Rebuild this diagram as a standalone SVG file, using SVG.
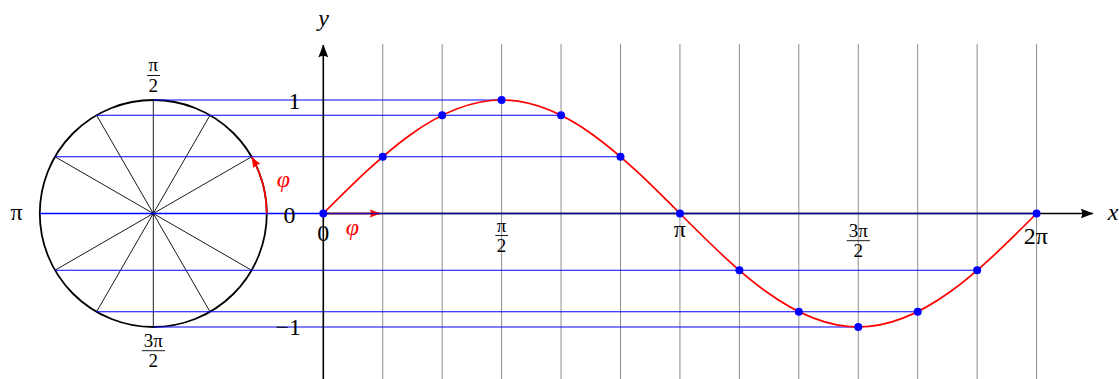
<svg xmlns="http://www.w3.org/2000/svg" width="1119" height="379" viewBox="0 0 1119 379">
<style>
.grid{stroke:#8c8c8c;stroke-width:1;fill:none}
.rad{stroke:#000;stroke-width:0.9;fill:none}
.proj{stroke:#0000ff;stroke-width:1.1;fill:none}
.axis{stroke:#000;stroke-width:1.6;fill:none}
.sine{stroke:#ff0000;stroke-width:1.7;fill:none}
.red{stroke:#ff0000;stroke-width:1.7;fill:none}
.dot{fill:#0000ff}
text{font-family:"Liberation Serif","Times New Roman",serif;fill:#000;text-anchor:middle}
.big{font-size:24px}
.frac{font-size:19px}
.it{font-style:italic}
.phi{fill:#ff0000;font-style:italic;font-size:24px}
.bar{stroke:#000;stroke-width:0.9}
</style>
<defs>
<marker id="ah" markerUnits="userSpaceOnUse" markerWidth="13" markerHeight="11" viewBox="0 0 13 11" refX="12.5" refY="5.5" orient="auto">
<path d="M13,5.5 L0,0.5 Q3.5,5.5 0,10.5 Z" fill="#000"/>
</marker>
<marker id="ahr" markerUnits="userSpaceOnUse" markerWidth="11" markerHeight="9" viewBox="0 0 11 9" refX="10.5" refY="4.5" orient="auto">
<path d="M11,4.5 L0,0.3 Q3,4.5 0,8.7 Z" fill="#ff0000"/>
</marker>
</defs>

<g id="grid">
<line class="grid" x1="382.74" y1="44" x2="382.74" y2="379"/>
<line class="grid" x1="442.18" y1="44" x2="442.18" y2="379"/>
<line class="grid" x1="501.62" y1="44" x2="501.62" y2="379"/>
<line class="grid" x1="561.06" y1="44" x2="561.06" y2="379"/>
<line class="grid" x1="620.5" y1="44" x2="620.5" y2="379"/>
<line class="grid" x1="679.94" y1="44" x2="679.94" y2="379"/>
<line class="grid" x1="739.38" y1="44" x2="739.38" y2="379"/>
<line class="grid" x1="798.82" y1="44" x2="798.82" y2="379"/>
<line class="grid" x1="858.26" y1="44" x2="858.26" y2="379"/>
<line class="grid" x1="917.7" y1="44" x2="917.7" y2="379"/>
<line class="grid" x1="977.14" y1="44" x2="977.14" y2="379"/>
<line class="grid" x1="1036.58" y1="44" x2="1036.58" y2="379"/>
</g>

<g id="unit-circle">
<line class="rad" x1="153.3" y1="100" x2="153.3" y2="327"/>
<line class="rad" x1="96.55" y1="115.21" x2="210.05" y2="311.79"/>
<line class="rad" x1="210.05" y1="115.21" x2="96.55" y2="311.79"/>
<line class="rad" x1="55.01" y1="156.75" x2="251.59" y2="270.25"/>
<line class="rad" x1="251.59" y1="156.75" x2="55.01" y2="270.25"/>
<circle cx="153.3" cy="213.5" r="113.5" fill="none" stroke="#000" stroke-width="1.8"/>
</g>

<g id="x-axis">
<line class="axis" x1="323.3" y1="213.5" x2="1093" y2="213.5" marker-end="url(#ah)"/>
</g>

<g id="connectors">
<line class="red" x1="323.3" y1="213.5" x2="380" y2="213.5" marker-end="url(#ahr)"/>
<line class="proj" x1="153.3" y1="100" x2="501.62" y2="100"/>
<line class="proj" x1="96.55" y1="115.21" x2="561.06" y2="115.21"/>
<line class="proj" x1="55.01" y1="156.75" x2="620.5" y2="156.75"/>
<line class="proj" x1="39.8" y1="213.5" x2="323.3" y2="213.5" style="stroke-width:1.6"/>
<line x1="323.3" y1="213.5" x2="1036.58" y2="213.5" style="stroke:#0a0aa8;stroke-width:1.7;stroke-opacity:0.9"/>
<line class="proj" x1="55.01" y1="270.25" x2="977.14" y2="270.25"/>
<line class="proj" x1="96.55" y1="311.79" x2="917.7" y2="311.79"/>
<line class="proj" x1="153.3" y1="327" x2="858.26" y2="327"/>
<path class="red" d="M266.8,213.5 A113.5,113.5 0 0 0 251.8,157.2" marker-end="url(#ahr)"/>
</g>

<g id="y-axis">
<line class="axis" x1="323.3" y1="379" x2="323.3" y2="45" marker-end="url(#ah)"/>
</g>

<g id="sine-curve">
<path class="sine" d="M323.3,213.5 C381.44,155.36 437.06,100 501.62,100 C566.14,100 621.8,155.36 679.94,213.5 C738.08,271.64 793.7,327 858.26,327 C922.8,327 978.44,271.64 1036.58,213.5"/>
</g>

<g id="points">
<circle class="dot" cx="323.3" cy="213.5" r="4"/>
<circle class="dot" cx="382.74" cy="156.75" r="4"/>
<circle class="dot" cx="442.18" cy="115.21" r="4"/>
<circle class="dot" cx="501.62" cy="100" r="4"/>
<circle class="dot" cx="561.06" cy="115.21" r="4"/>
<circle class="dot" cx="620.5" cy="156.75" r="4"/>
<circle class="dot" cx="679.94" cy="213.5" r="4"/>
<circle class="dot" cx="739.38" cy="270.25" r="4"/>
<circle class="dot" cx="798.82" cy="311.79" r="4"/>
<circle class="dot" cx="858.26" cy="327" r="4"/>
<circle class="dot" cx="917.7" cy="311.79" r="4"/>
<circle class="dot" cx="977.14" cy="270.25" r="4"/>
<circle class="dot" cx="1036.58" cy="213.5" r="4"/>
</g>

<g id="labels">
<text class="big it" x="323.5" y="26">y</text>
<text class="big it" x="1113" y="220">x</text>
<text class="big" x="294.5" y="109">1</text>
<text class="big" x="289.5" y="222.5">0</text>
<text class="big" x="301" y="335" style="text-anchor:end">−1</text>
<text class="big" x="323.3" y="241">0</text>
<text class="big" x="679.9" y="236.7">π</text>
<text class="big" x="1035.8" y="244">2π</text>
<text class="big" x="16.5" y="220">π</text>
<text class="phi" x="283.5" y="187">φ</text>
<text class="phi" x="352.5" y="235">φ</text>

<text class="frac" x="153.3" y="71">π</text>
<line class="bar" x1="147" y1="75.5" x2="160" y2="75.5"/>
<text class="frac" x="153.3" y="92">2</text>

<text class="frac" x="153.3" y="346.7">3π</text>
<line class="bar" x1="141.8" y1="350.7" x2="165" y2="350.7"/>
<text class="frac" x="153.3" y="366.7">2</text>

<text class="frac" x="501.6" y="232">π</text>
<line class="bar" x1="495.3" y1="235.5" x2="508" y2="235.5"/>
<text class="frac" x="501.6" y="252">2</text>

<text class="frac" x="858.3" y="237">3π</text>
<line class="bar" x1="846.7" y1="240.7" x2="869.9" y2="240.7"/>
<text class="frac" x="858.3" y="257">2</text>
</g>
</svg>
